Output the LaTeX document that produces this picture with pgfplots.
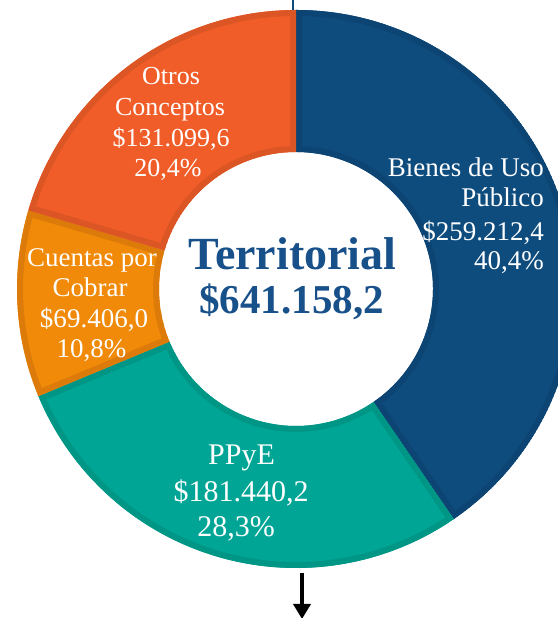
\documentclass[border=0pt]{standalone}
\usepackage{pgfplots}
\pgfplotsset{compat=1.18}
\usepackage{pgfplotstable}
\usepackage{fontspec}
\setmainfont{Liberation Serif}
\usetikzlibrary{arrows.meta}

\definecolor{cBlue}{HTML}{0F4C7E}
\definecolor{cBlueB}{HTML}{0C4473}
\definecolor{cTeal}{HTML}{00A595}
\definecolor{cTealB}{HTML}{009686}
\definecolor{cOrg}{HTML}{F08A08}
\definecolor{cOrgB}{HTML}{DD7B0A}
\definecolor{cRed}{HTML}{F05D28}
\definecolor{cRedB}{HTML}{DC5525}
\definecolor{cText}{HTML}{18508A}

\pgfplotstableread{
label value
Bienes 259212.4
PPyE 181440.2
Cuentas 69406.0
Otros 131099.6
}\donut

\newcommand\Ro{279bp}
\newcommand\Ri{137bp}
\newcommand\Rd{142bp}
\newcommand\slicepath[2]{([shift={(#1:\Ro)}]axis cs:0,0) arc[start angle=#1,end angle=#2,radius=\Ro] -- ++(#2:-\Rd) arc[start angle=#2,end angle=#1,radius=\Ri] -- cycle}
\newcommand\slice[4]{%
  \begin{scope}
    \clip \slicepath{#1}{#2};
    \fill[#3] \slicepath{#1}{#2};
    \draw[#4, line width=12bp] \slicepath{#1}{#2};
  \end{scope}}

\pgfplotstablegetelem{0}{value}\of\donut \edef\vA{\pgfplotsretval}%
\pgfplotstablegetelem{1}{value}\of\donut \edef\vB{\pgfplotsretval}%
\pgfplotstablegetelem{2}{value}\of\donut \edef\vC{\pgfplotsretval}%
\pgfplotstablegetelem{3}{value}\of\donut \edef\vD{\pgfplotsretval}%
\edef\total{\fpeval{\vA+\vB+\vC+\vD}}%
\edef\aA{90}%
\edef\aB{\fpeval{90-\vA/\total*360}}%
\edef\aC{\fpeval{\aB-\vB/\total*360}}%
\edef\aD{\fpeval{\aC-\vC/\total*360}}%
\edef\aE{\fpeval{\aD-\vD/\total*360}}%

\begin{document}%
\begin{tikzpicture}
\begin{axis}[x=1bp, y=1bp, xmin=-296, xmax=262, ymin=-329, ymax=289,
  hide axis, clip=true]
  \slice{\aA}{\aB}{cBlue}{cBlueB}
  \slice{\aB}{\aC}{cTeal}{cTealB}
  \slice{\aC}{\aD}{cOrg}{cOrgB}
  \slice{\aD}{\aE}{cRed}{cRedB}
  % leader line at top
  \draw[cBlue, line width=1.5bp] (axis cs:-3,289) -- (axis cs:-3,279);
  % arrow at bottom
  \draw[black, line width=3.5bp, -{Triangle[width=17bp,length=15bp]}] (axis cs:6,-284) -- (axis cs:6,-330);
  % center text
  \node[anchor=base, text=cText, font=\fontsize{46bp}{50bp}\selectfont\bfseries] at (axis cs:-3.5,19) {Territorial};
  \node[anchor=base, text=cText, font=\fontsize{41bp}{46bp}\selectfont\bfseries] at (axis cs:-4.5,-25) {\$641.158,2};
  % Otros
  \begin{scope}[every node/.style={anchor=base, text=white, font=\fontsize{26bp}{31bp}\selectfont, inner sep=0pt}]
    \node at (axis cs:-125,204) {Otros};
    \node at (axis cs:-126,173) {Conceptos};
    \node at (axis cs:-125,142) {\$131.099,6};
    \node at (axis cs:-128,112) {20,4\%};
  \end{scope}
  % Bienes
  \begin{scope}[every node/.style={anchor=base east, text=white, font=\fontsize{27bp}{32bp}\selectfont, inner sep=0pt}]
    \node at (axis cs:248,112) {Bienes de Uso};
    \node at (axis cs:248,82) {Público};
    \node at (axis cs:248,48) {\$259.212,4};
    \node at (axis cs:248,19) {40,4\%};
  \end{scope}
  % Cuentas
  \begin{scope}[every node/.style={anchor=base, text=white, font=\fontsize{27bp}{32bp}\selectfont, inner sep=0pt}]
    \node at (axis cs:-204,22) {Cuentas por};
    \node at (axis cs:-206,-8) {Cobrar};
    \node at (axis cs:-202,-39) {\$69.406,0};
    \node at (axis cs:-204.5,-69) {10,8\%};
  \end{scope}
  % PPyE
  \begin{scope}[every node/.style={anchor=base, text=white, font=\fontsize{30bp}{36bp}\selectfont, inner sep=0pt}]
    \node at (axis cs:-54.5,-176) {PPyE};
    \node at (axis cs:-55,-212.7) {\$181.440,2};
    \node at (axis cs:-60,-247.7) {28,3\%};
  \end{scope}
\end{axis}
\pgfresetboundingbox
\path[use as bounding box] (current axis.south west) rectangle (current axis.north east);
\end{tikzpicture}%
\end{document}
